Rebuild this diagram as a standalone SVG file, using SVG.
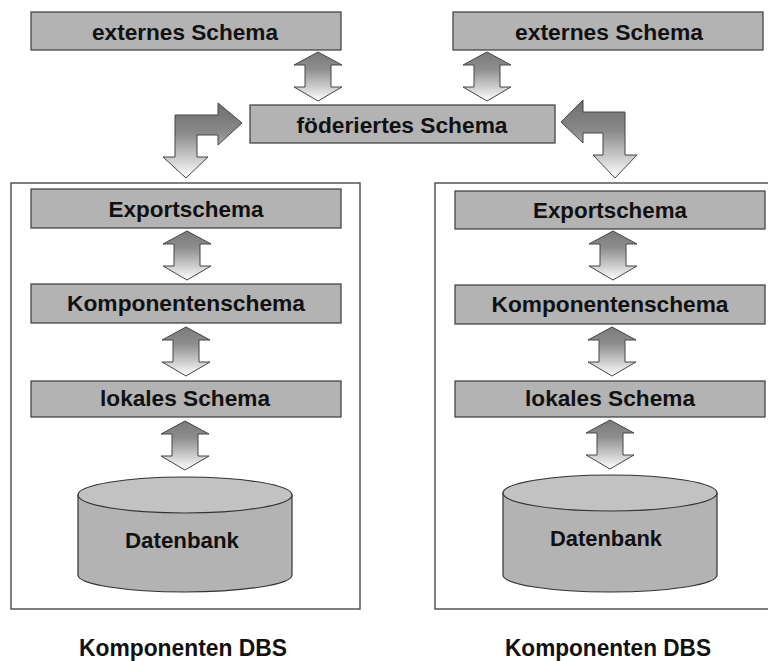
<svg xmlns="http://www.w3.org/2000/svg" width="768" height="661" viewBox="0 0 768 661">
  <defs>
    <linearGradient id="arrowFill" x1="0" y1="0" x2="0" y2="1">
      <stop offset="0" stop-color="#7a7a7a"/>
      <stop offset="0.35" stop-color="#8e8e8e"/>
      <stop offset="1" stop-color="#ffffff"/>
    </linearGradient>
    <linearGradient id="bendFill" x1="0" y1="0" x2="0" y2="1">
      <stop offset="0" stop-color="#6e6e6e"/>
      <stop offset="0.4" stop-color="#8a8a8a"/>
      <stop offset="1" stop-color="#ffffff"/>
    </linearGradient>
    <!-- double-headed vertical arrow, 48 high, tip at origin -->
    <path id="dbl" d="M0,0 L24,13 L13,13 L13,35 L24,35 L0,49 L-24,35 L-13,35 L-13,13 L-24,13 Z"/>
  </defs>
  <style>
    .box { fill: #b3b3b3; stroke: #3a3a3a; stroke-width: 1.2; }
    .frame { fill: #ffffff; stroke: #555555; stroke-width: 1.5; }
    .lbl { font-family: "Liberation Sans", Arial, sans-serif; font-weight: bold; font-size: 22px; fill: #111111; text-anchor: middle; }
    .cap { font-family: "Liberation Sans", Arial, sans-serif; font-weight: bold; font-size: 24px; fill: #111111; text-anchor: middle; }
    .arrow { fill: url(#arrowFill); stroke: #444444; stroke-width: 1; }
    .bend { fill: url(#bendFill); stroke: #444444; stroke-width: 1; }
    .cylBody { fill: #b3b3b3; stroke: #333333; stroke-width: 1.2; }
    .cylTop { fill: #c2c2c2; stroke: #333333; stroke-width: 1.2; }
  </style>

  <!-- component system frames -->
  <g id="dbs-left">
    <rect class="frame" x="11" y="183" width="349" height="426"/>
    <text class="cap" x="183" y="656" textLength="208" lengthAdjust="spacingAndGlyphs">Komponenten DBS</text>
  </g>
  <g id="dbs-right">
    <rect class="frame" x="435" y="183" width="360" height="426"/>
    <text class="cap" x="608" y="656" textLength="206" lengthAdjust="spacingAndGlyphs">Komponenten DBS</text>
  </g>

  <!-- schema nodes -->
  <g id="ext-left">
    <rect class="box" x="31" y="12" width="310" height="38"/>
    <text class="lbl" x="185" y="40" textLength="186" lengthAdjust="spacingAndGlyphs">externes Schema</text>
  </g>
  <g id="ext-right">
    <rect class="box" x="453" y="12" width="310" height="38"/>
    <text class="lbl" x="609" y="40" textLength="188" lengthAdjust="spacingAndGlyphs">externes Schema</text>
  </g>
  <g id="federated">
    <rect class="box" x="250" y="105" width="305" height="38"/>
    <text class="lbl" x="402" y="133" textLength="211" lengthAdjust="spacingAndGlyphs">föderiertes Schema</text>
  </g>

  <g id="export-left">
    <rect class="box" x="31" y="189" width="310" height="39"/>
    <text class="lbl" x="186" y="217" textLength="155" lengthAdjust="spacingAndGlyphs">Exportschema</text>
  </g>
  <g id="component-left">
    <rect class="box" x="31" y="284" width="310" height="39"/>
    <text class="lbl" x="186" y="311" textLength="238" lengthAdjust="spacingAndGlyphs">Komponentenschema</text>
  </g>
  <g id="local-left">
    <rect class="box" x="31" y="381" width="310" height="36"/>
    <text class="lbl" x="185" y="406" textLength="170" lengthAdjust="spacingAndGlyphs">lokales Schema</text>
  </g>
  <g id="db-left">
    <path class="cylBody" d="M78,495 L78,575 A107,17 0 0 0 292,575 L292,495 Z"/>
    <ellipse class="cylTop" cx="185" cy="495" rx="107" ry="18"/>
    <text class="lbl" x="182" y="548" textLength="114" lengthAdjust="spacingAndGlyphs">Datenbank</text>
  </g>

  <g id="export-right">
    <rect class="box" x="455" y="191" width="310" height="38"/>
    <text class="lbl" x="610" y="218" textLength="154" lengthAdjust="spacingAndGlyphs">Exportschema</text>
  </g>
  <g id="component-right">
    <rect class="box" x="455" y="285" width="310" height="39"/>
    <text class="lbl" x="610" y="312" textLength="237" lengthAdjust="spacingAndGlyphs">Komponentenschema</text>
  </g>
  <g id="local-right">
    <rect class="box" x="455" y="381" width="310" height="36"/>
    <text class="lbl" x="610" y="406" textLength="170" lengthAdjust="spacingAndGlyphs">lokales Schema</text>
  </g>
  <g id="db-right">
    <path class="cylBody" d="M503,493 L503,575 A107,17 0 0 0 717,575 L717,493 Z"/>
    <ellipse class="cylTop" cx="610" cy="493" rx="107" ry="18"/>
    <text class="lbl" x="606" y="546" textLength="112" lengthAdjust="spacingAndGlyphs">Datenbank</text>
  </g>

  <!-- connectors -->
  <g id="connectors">
    <use href="#dbl" class="arrow" x="318" y="52"/>
    <use href="#dbl" class="arrow" x="487" y="52"/>
    <use href="#dbl" class="arrow" x="187" y="231"/>
    <use href="#dbl" class="arrow" x="186" y="327"/>
    <use href="#dbl" class="arrow" x="185" y="421"/>
    <use href="#dbl" class="arrow" x="613" y="231"/>
    <use href="#dbl" class="arrow" x="612" y="327"/>
    <use href="#dbl" class="arrow" x="610" y="420"/>
    <path class="bend" d="M175,115 L218,115 L218,103 L242,123 L218,145 L218,135 L197,135 L197,157 L208,157 L186,178 L163,157 L175,157 Z"/>
    <path class="bend" d="M561,122 L583,100 L583,112 L625,112 L625,155 L637,155 L615,178 L593,155 L603,155 L603,133 L583,133 L583,143 Z"/>
  </g>
</svg>
